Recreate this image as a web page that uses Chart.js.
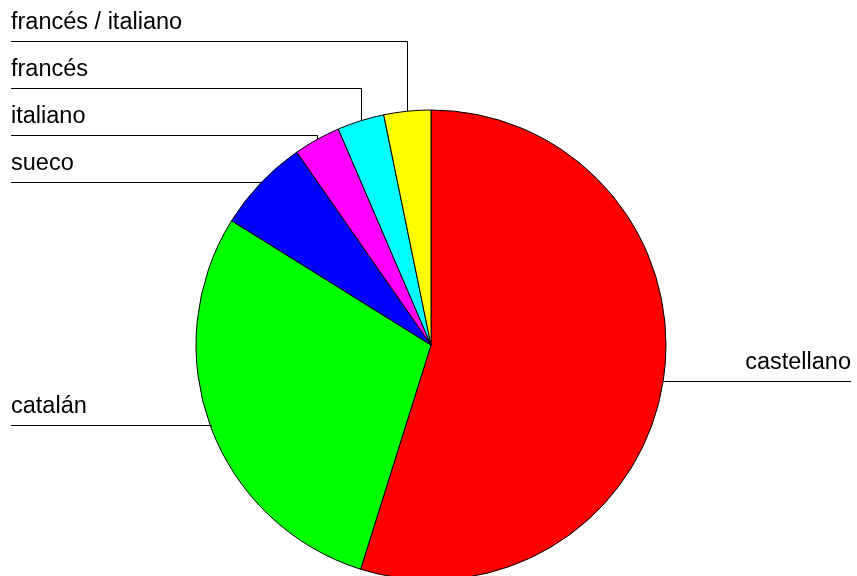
<!DOCTYPE html>
<html>
<head>
<meta charset="utf-8">
<script src="https://cdn.jsdelivr.net/npm/chart.js@4/dist/chart.umd.min.js"></script>
<style>
  html, body { margin: 0; padding: 0; background: #fff; overflow: hidden; }
  #wrap { width: 857px; height: 620px; }
</style>
</head>
<body>
<div id="wrap"><canvas id="chart-lang" width="857" height="620"></canvas></div>
<script>
// Idiomas — valores
const languages = ['castellano', 'catalán', 'sueco', 'italiano', 'francés', 'francés / italiano'];
const counts = [17, 9, 2, 1, 1, 1];
const sliceColors = ['#ff0000', '#00ff00', '#0000ff', '#ff00ff', '#00ffff', '#ffff00'];

const FONT = '23.5px "Liberation Sans", Arial, sans-serif';
const LABEL_GAP = 46.7;   // min vertical spacing between stacked labels
const EDGE_L = 11, EDGE_R = 851;

// Leader lines + labels, positioned from each arc's mid angle
const leaderPlugin = {
  id: 'leaders',
  afterDatasetsDraw(chart) {
    const ctx = chart.ctx;
    const arcs = chart.getDatasetMeta(0).data;
    const pts = arcs.map((a, i) => {
      const mid = (a.startAngle + a.endAngle) / 2;
      return {
        i,
        x: a.x + Math.cos(mid) * a.outerRadius,
        y: a.y + Math.sin(mid) * a.outerRadius,
        right: Math.cos(mid) > 0
      };
    });

    // stack the left-side labels bottom-up so they don't collide
    const left = pts.filter(p => !p.right).sort((a, b) => b.y - a.y);
    let prev = Infinity;
    left.forEach(p => { p.ly = Math.min(p.y - 1.5, prev - LABEL_GAP); prev = p.ly; });

    ctx.save();
    ctx.strokeStyle = '#000';
    ctx.lineWidth = 1;
    ctx.fillStyle = '#000';
    ctx.font = FONT;
    ctx.textBaseline = 'alphabetic';

    pts.forEach(p => {
      const label = chart.data.labels[p.i];
      const px = Math.round(p.x) + 0.5;
      if (p.right) {
        const y = Math.round(p.y) + 0.5;
        ctx.beginPath();
        ctx.moveTo(px, y);
        ctx.lineTo(EDGE_R, y);
        ctx.stroke();
        ctx.textAlign = 'right';
        ctx.fillText(label, EDGE_R, y - 13);
      } else {
        const ly = Math.round(p.ly) + 0.5;
        ctx.beginPath();
        ctx.moveTo(EDGE_L, ly);
        ctx.lineTo(px, ly);
        ctx.lineTo(px, p.y);
        ctx.stroke();
        ctx.textAlign = 'left';
        ctx.fillText(label, EDGE_L, ly - 13);
      }
    });
    ctx.restore();
  }
};

new Chart(document.getElementById('chart-lang').getContext('2d'), {
  type: 'pie',
  data: {
    labels: languages,
    datasets: [{
      data: counts,
      backgroundColor: sliceColors,
      borderColor: '#000',
      borderWidth: 1,
      borderAlign: 'center'
    }]
  },
  options: {
    responsive: false,
    animation: false,
    radius: 235,
    layout: { padding: { left: 196, right: 191, top: 110, bottom: 40 } },
    plugins: {
      legend: { display: false },
      tooltip: { enabled: false }
    }
  },
  plugins: [leaderPlugin]
});
</script>
</body>
</html>
